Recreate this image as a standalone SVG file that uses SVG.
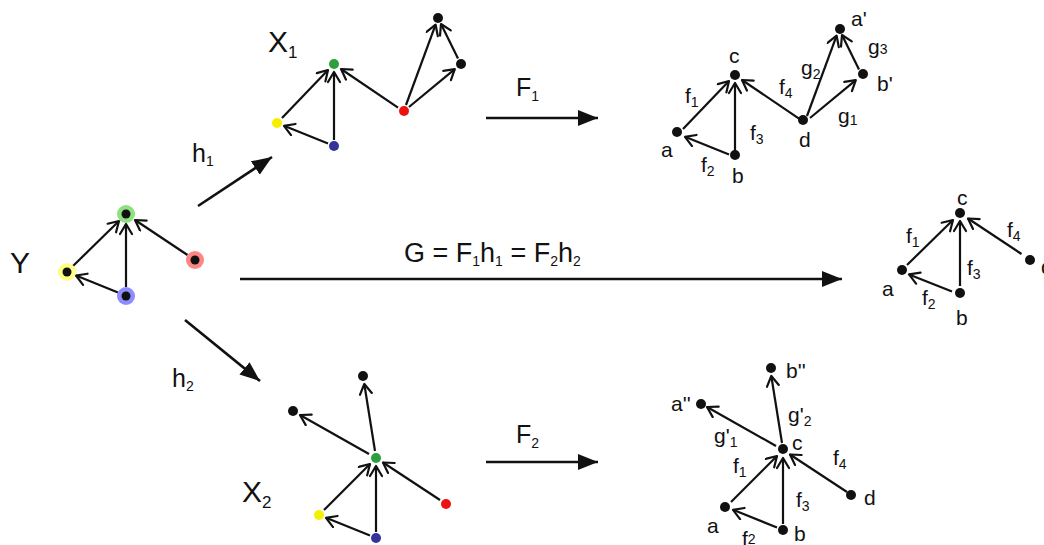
<svg xmlns="http://www.w3.org/2000/svg" width="1044" height="545" viewBox="0 0 1044 545">
<style>
text{font-family:"Liberation Sans","DejaVu Sans",sans-serif;fill:#111}
.lb{font-size:21px}
.big{font-size:30px}
.arr{font-size:25px}
.sub{font-size:14px}
.e{stroke:#111;stroke-width:2.2;fill:none;marker-end:url(#open)}
.E{stroke:#111;stroke-width:2.6;fill:none;marker-end:url(#solid)}
.dot{fill:#111}
</style>
<defs>
<marker id="open" markerUnits="userSpaceOnUse" markerWidth="16" markerHeight="16" viewBox="0 0 16 16" refX="12" refY="7" orient="auto">
<path d="M2,1 L12,7 L2,13" fill="none" stroke="#111" stroke-width="2.2" stroke-linecap="round" stroke-linejoin="round"/>
</marker>
<marker id="solid" markerUnits="userSpaceOnUse" markerWidth="22" markerHeight="18" viewBox="0 0 22 18" refX="20" refY="8" orient="auto">
<path d="M0,0 L20,8 L0,16 z" fill="#111"/>
</marker>
</defs>

<g id="connectors">
<!-- Y -->
<line class="e" x1="73" y1="266" x2="119" y2="221"/>
<line class="e" x1="126" y1="287" x2="126" y2="224"/>
<line class="e" x1="118" y1="292.6" x2="76" y2="275.5"/>
<line class="e" x1="187.5" y1="255" x2="135" y2="220"/>
<!-- X1 -->
<line class="e" x1="282" y1="118" x2="328" y2="70"/>
<line class="e" x1="334" y1="140" x2="334" y2="72"/>
<line class="e" x1="328" y1="143.5" x2="284" y2="125.8"/>
<line class="e" x1="398" y1="107.6" x2="341" y2="69"/>
<line class="e" x1="406" y1="105" x2="435.6" y2="24.6"/>
<line class="e" x1="409" y1="107" x2="454.8" y2="69.1"/>
<line class="e" x1="458" y1="58.6" x2="441" y2="24"/>
<!-- top right -->
<g transform="translate(401,11)">
<line class="e" x1="282" y1="118" x2="328" y2="70"/>
<line class="e" x1="334" y1="140" x2="334" y2="72"/>
<line class="e" x1="328" y1="143.5" x2="284" y2="125.8"/>
<line class="e" x1="398" y1="107.6" x2="341" y2="69"/>
<line class="e" x1="406" y1="105" x2="435.6" y2="24.6"/>
<line class="e" x1="409" y1="107" x2="454.8" y2="69.1"/>
<line class="e" x1="458" y1="58.6" x2="441" y2="24"/>
</g>
<!-- middle right -->
<g transform="translate(834,-1)">
<line class="e" x1="73" y1="266" x2="119" y2="221"/>
<line class="e" x1="126" y1="287" x2="126" y2="222"/>
<line class="e" x1="118" y1="292.6" x2="75" y2="275.4"/>
<line class="e" x1="187.5" y1="255" x2="134" y2="219.5"/>
</g>
<!-- X2 -->
<line class="e" x1="375" y1="451" x2="364.3" y2="384"/>
<line class="e" x1="369" y1="454" x2="300" y2="415"/>
<line class="e" x1="324" y1="510" x2="370" y2="464"/>
<line class="e" x1="376" y1="532" x2="376" y2="466"/>
<line class="e" x1="370" y1="535.5" x2="326" y2="517.8"/>
<line class="e" x1="440" y1="500" x2="383" y2="462.5"/>
<!-- bottom right -->
<g transform="translate(407,-8)">
<line class="e" x1="375" y1="451" x2="364.3" y2="384"/>
<line class="e" x1="369" y1="454" x2="300" y2="415"/>
<line class="e" x1="324" y1="510" x2="370" y2="464"/>
<line class="e" x1="376" y1="532" x2="376" y2="466"/>
<line class="e" x1="370" y1="535.5" x2="326" y2="517.8"/>
<line class="e" x1="440" y1="500" x2="383" y2="462.5"/>
</g>
<!-- big arrows -->
<line class="E" x1="198" y1="206" x2="272" y2="157"/>
<line class="E" x1="185" y1="320" x2="260" y2="381"/>
<line class="E" x1="486" y1="118" x2="598" y2="118"/>
<line class="E" x1="486" y1="462" x2="598" y2="462"/>
<line class="E" x1="240" y1="279" x2="842" y2="279"/>
</g>

<!-- Y graph -->
<g id="Y">
<text class="big" x="10" y="273">Y</text>
<g id="Y-green"><circle cx="126" cy="214" r="9" fill="#8fe080"/><circle cx="126" cy="214" r="4.5" class="dot"/></g>
<g id="Y-yellow"><circle cx="67" cy="272" r="9" fill="#ffff88"/><circle cx="67" cy="272" r="4.5" class="dot"/></g>
<g id="Y-blue"><circle cx="126" cy="296" r="9" fill="#8c8cff"/><circle cx="126" cy="296" r="4.5" class="dot"/></g>
<g id="Y-red"><circle cx="195" cy="260" r="9" fill="#ff8585"/><circle cx="195" cy="260" r="4.5" class="dot"/></g>
</g>

<!-- X1 graph -->
<g id="X1">
<text class="big" x="268" y="52">X<tspan class="sub" dy="6" style="font-size:17px">1</tspan></text>
<g id="X1-green"><circle cx="334" cy="64" r="5" fill="#2e9e3e"/></g>
<g id="X1-yellow"><circle cx="277" cy="123" r="5" fill="#f5f000"/></g>
<g id="X1-blue"><circle cx="334" cy="146" r="5" fill="#333399"/></g>
<g id="X1-red"><circle cx="404" cy="111" r="5" fill="#ee1111"/></g>
<g id="X1-top"><circle cx="438" cy="18" r="5" class="dot"/></g>
<g id="X1-right"><circle cx="461" cy="64" r="5" class="dot"/></g>
</g>

<!-- top right graph -->
<g id="F1-graph">
<g id="n-c1"><circle cx="735" cy="75" r="5" class="dot"/><text class="lb" x="729" y="63">c</text></g>
<g id="n-a1"><circle cx="677" cy="132" r="5" class="dot"/><text class="lb" x="661" y="157">a</text></g>
<g id="n-b1"><circle cx="735" cy="155" r="5" class="dot"/><text class="lb" x="732" y="183">b</text></g>
<g id="n-d1"><circle cx="803" cy="120" r="5" class="dot"/><text class="lb" x="799" y="147">d</text></g>
<g id="n-a1p"><circle cx="840" cy="29" r="5" class="dot"/><text class="lb" x="851" y="26">a'</text></g>
<g id="n-b1p"><circle cx="863" cy="74" r="5" class="dot"/><text class="lb" x="877" y="91">b'</text></g>
<text class="lb" x="685" y="103">f<tspan class="sub" dy="4">1</tspan></text>
<text class="lb" x="701" y="172">f<tspan class="sub" dy="4">2</tspan></text>
<text class="lb" x="750" y="140">f<tspan class="sub" dy="4">3</tspan></text>
<text class="lb" x="779" y="94">f<tspan class="sub" dy="4">4</tspan></text>
<text class="lb" x="801" y="75">g<tspan class="sub" dy="4">2</tspan></text>
<text class="lb" x="868" y="54">g<tspan class="sub" dy="0">3</tspan></text>
<text class="lb" x="838" y="123">g<tspan class="sub" dy="2">1</tspan></text>
</g>

<!-- middle right graph -->
<g id="G-graph">
<g id="n-c2"><circle cx="960" cy="213" r="5" class="dot"/><text class="lb" x="957" y="205">c</text></g>
<g id="n-a2"><circle cx="902" cy="270" r="5" class="dot"/><text class="lb" x="882" y="296">a</text></g>
<g id="n-b2"><circle cx="960" cy="293" r="5" class="dot"/><text class="lb" x="956" y="325">b</text></g>
<g id="n-d2"><circle cx="1030" cy="260" r="5" class="dot"/><text class="lb" x="1041" y="274">d</text></g>
<text class="lb" x="906" y="243">f<tspan class="sub" dy="4">1</tspan></text>
<text class="lb" x="922" y="305">f<tspan class="sub" dy="4">2</tspan></text>
<text class="lb" x="967" y="275">f<tspan class="sub" dy="4">3</tspan></text>
<text class="lb" x="1007" y="237">f<tspan class="sub" dy="4">4</tspan></text>
</g>

<!-- X2 graph -->
<g id="X2">
<text class="big" x="242" y="502">X<tspan class="sub" dy="6" style="font-size:17px">2</tspan></text>
<g id="X2-top"><circle cx="363" cy="376" r="5" class="dot"/></g>
<g id="X2-left"><circle cx="293" cy="411" r="5" class="dot"/></g>
<g id="X2-green"><circle cx="376" cy="458" r="5" fill="#2e9e3e"/></g>
<g id="X2-yellow"><circle cx="319" cy="515" r="5" fill="#f5f000"/></g>
<g id="X2-blue"><circle cx="376" cy="538" r="5" fill="#333399"/></g>
<g id="X2-red"><circle cx="446" cy="504" r="5" fill="#ee1111"/></g>
</g>

<!-- bottom right graph -->
<g id="F2-graph">
<g id="n-b3pp"><circle cx="771" cy="368" r="5" class="dot"/><text class="lb" x="786" y="378">b''</text></g>
<g id="n-a3pp"><circle cx="701" cy="404" r="5" class="dot"/><text class="lb" x="671" y="411">a''</text></g>
<g id="n-c3"><circle cx="783" cy="449" r="5" class="dot"/><text class="lb" x="792" y="450">c</text></g>
<g id="n-a3"><circle cx="725" cy="507" r="5" class="dot"/><text class="lb" x="707" y="533">a</text></g>
<g id="n-b3"><circle cx="783" cy="530" r="5" class="dot"/><text class="lb" x="794" y="541">b</text></g>
<g id="n-d3"><circle cx="851" cy="495" r="5" class="dot"/><text class="lb" x="864" y="505">d</text></g>
<text class="lb" x="788" y="422">g'<tspan class="sub" dy="4">2</tspan></text>
<text class="lb" x="714" y="443">g'<tspan class="sub" dy="4">1</tspan></text>
<text class="lb" x="733" y="473">f<tspan class="sub" dy="4">1</tspan></text>
<text class="lb" x="833" y="465">f<tspan class="sub" dy="4">4</tspan></text>
<text class="lb" x="796" y="507">f<tspan class="sub" dy="4">3</tspan></text>
<text class="lb" x="742" y="546">f<tspan class="sub" dy="-2">2</tspan></text>
</g>

<!-- arrow labels -->
<g id="labels">
<text class="arr" x="192" y="162">h<tspan class="sub" dy="4">1</tspan></text>
<text class="arr" x="172" y="387">h<tspan class="sub" dy="4">2</tspan></text>
<text class="arr" x="516" y="96">F<tspan class="sub" dy="5">1</tspan></text>
<text class="arr" x="516" y="443">F<tspan class="sub" dy="5">2</tspan></text>
<text class="arr" x="404" y="262" style="font-size:27px">G = F<tspan class="sub" dy="4">1</tspan><tspan dy="-4">h</tspan><tspan class="sub" dy="4">1</tspan><tspan dy="-4"> = F</tspan><tspan class="sub" dy="4">2</tspan><tspan dy="-4">h</tspan><tspan class="sub" dy="4">2</tspan></text>
</g>
</svg>
